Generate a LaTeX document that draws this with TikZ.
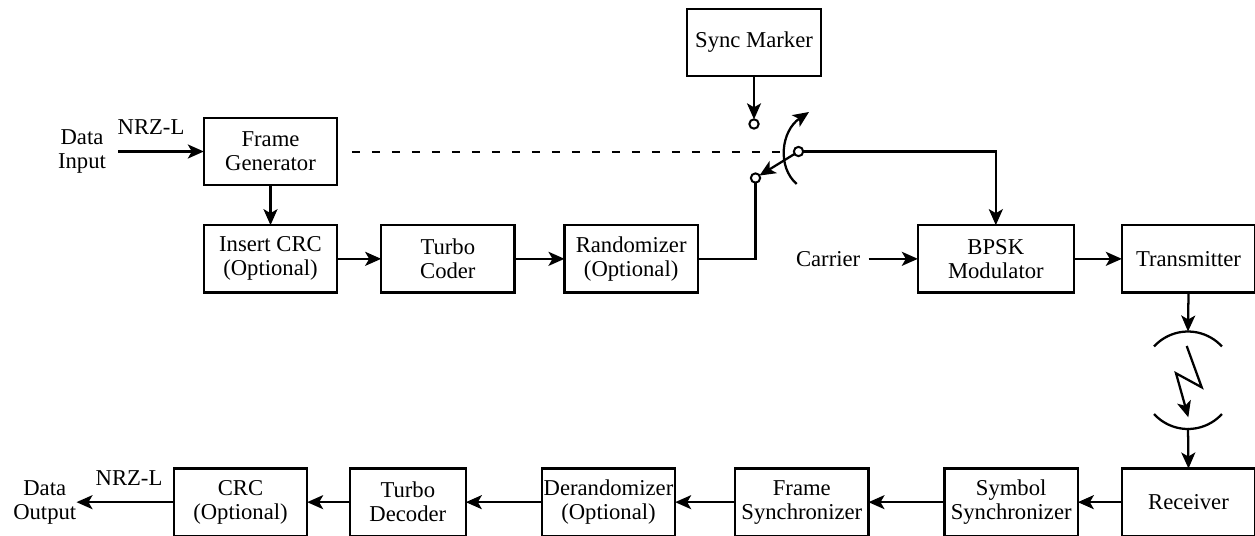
\documentclass[tikz,border=0pt]{standalone}
\usepackage{fontspec}
\setmainfont{Liberation Serif}
\usetikzlibrary{positioning,arrows.meta}
\begin{document}
\begin{tikzpicture}[
    x=0.75pt, y=0.75pt,
    block/.style={rectangle, draw, line width=1.7pt, outer sep=0pt, minimum width=100pt,
                  minimum height=50.5pt, inner sep=1pt, align=center,
                  font=\fontsize{17}{18}\selectfont},
    label/.style={align=center, inner sep=0pt, font=\fontsize{17}{18}\selectfont},
    contact/.style={circle, draw, line width=1.5pt, outer sep=0pt, fill=white, inner sep=0pt, minimum size=7pt},
    arrow/.style={line width=1.7pt, ->, >={Stealth[length=12pt, width=10.5pt, inset=3pt]}},
    line/.style={line width=1.7pt}
  ]
    \useasboundingbox (0,0) rectangle (1255,-535);

    % Transmit chain
    \node[block] (framegen) at (270.5,-151.5) {Frame\\Generator};
    \node[block, below=30pt of framegen] (insertcrc) {Insert CRC\\(Optional)};
    \node[block, right=33pt of insertcrc] (turbocoder) {Turbo\\Coder};
    \node[block, right=37.5pt of turbocoder] (randomizer) {Randomizer\\(Optional)};
    \node[block, right=165pt of randomizer, minimum width=117pt] (bpsk) {BPSK\\Modulator};
    \node[block, right=36pt of bpsk] (transmitter) {Transmitter};
    \node[block] (syncmarker) at (754,-42.5) {Sync Marker};

    % Receive chain
    \node[block, below=132pt of transmitter] (receiver) {Receiver};
    \node[block, left=33pt of receiver] (symbolsync) {Symbol\\Synchronizer};
    \node[block, left=57pt of symbolsync] (framesync) {Frame\\Synchronizer};
    \node[block, left=45pt of framesync] (derandomizer) {Derandomizer\\(Optional)};
    \node[block, left=57pt of derandomizer, minimum width=87pt] (turbodecoder) {Turbo\\Decoder};
    \node[block, left=32pt of turbodecoder] (crc) {CRC\\(Optional)};

    % Labels
    \node[label] (datainput) at (82,-151.5) {Data\\Input};
    \node[label] (nrzin) at (151,-127) {NRZ-L};
    \node[label, left=43pt of bpsk] (carrier) {Carrier};
    \node[label, left=73pt of crc] (dataoutput) {Data\\Output};
    \node[label] (nrzout) at (129,-478) {NRZ-L};

    % Switch
    \node[contact] (topcontact) at (754,-124) {};
    \node[contact] (botcontact) at (755.5,-178) {};
    \node[contact] (pivot) at (798.5,-151.5) {};
    \coordinate (dashend) at (783,-151.5);
    \coordinate (swingfrom) at (796.7,-184);
    \coordinate (swingto) at (809,-112);

    % Antennas
    \coordinate (dishtop) at (1188,-331.5);
    \coordinate (dishbot) at (1188,-428);
    \coordinate (boltA) at (1186.7,-346);
    \coordinate (boltB) at (1201.7,-387.3);
    \coordinate (boltC) at (1176,-373.3);
    \coordinate (boltD) at (1188.3,-417.3);

    % Conexions
    \draw[arrow] (datainput.east) ++(12,0) -- (framegen.west);
    \draw[arrow] (framegen) -- (insertcrc);
    \draw[arrow] (insertcrc) -- (turbocoder);
    \draw[arrow] (turbocoder) -- (randomizer);
    \draw[line] (randomizer.east) -| (botcontact.south);
    \draw[line width=1.5pt, dash pattern=on 6pt off 9pt] ([xshift=11pt]framegen.east) -- (dashend);
    \draw[arrow] (syncmarker) -- (topcontact);
    \draw[arrow] (pivot) -- (botcontact);
    \draw[arrow] (swingfrom) .. controls (777,-167) and (781,-131) .. (swingto);
    \draw[arrow] (pivot.east) -| (bpsk.north);
    \draw[arrow] (carrier.east) ++(8,0) -- (bpsk.west);
    \draw[arrow] (bpsk) -- (transmitter);

    \draw[arrow] (transmitter.south) -- (dishtop);
    \draw[line] (dishtop) ++(-34,-15) arc[start angle=137.6, end angle=42.4, radius=34.5pt];
    \draw[arrow, line join=miter] (boltA) -- (boltB) -- (boltC) -- (boltD);
    \draw[line] (dishbot) ++(-34,14) arc[start angle=222.4, end angle=317.6, radius=34.5pt];
    \draw[arrow] (dishbot) -- (receiver.north);

    \draw[arrow] (receiver) -- (symbolsync);
    \draw[arrow] (symbolsync) -- (framesync);
    \draw[arrow] (framesync) -- (derandomizer);
    \draw[arrow] (derandomizer) -- (turbodecoder);
    \draw[arrow] (turbodecoder) -- (crc);
    \draw[arrow] (crc) -- (dataoutput);
  \end{tikzpicture}
\end{document}
